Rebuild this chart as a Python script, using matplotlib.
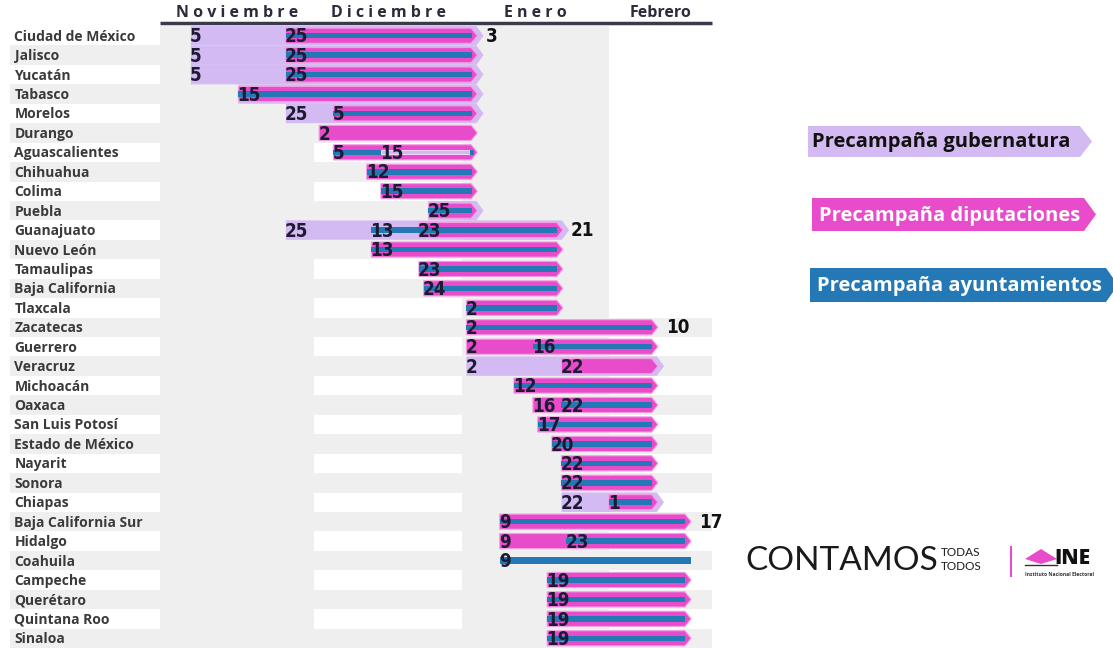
import numpy as np
import matplotlib
matplotlib.use("Agg")
import matplotlib.pyplot as plt
from matplotlib.patches import Polygon, Rectangle

# --- data -------------------------------------------------------------
states = ["Ciudad de México", "Jalisco", "Yucatán", "Tabasco", "Morelos", "Durango",
          "Aguascalientes", "Chihuahua", "Colima", "Puebla", "Guanajuato", "Nuevo León",
          "Tamaulipas", "Baja California", "Tlaxcala", "Zacatecas", "Guerrero", "Veracruz",
          "Michoacán", "Oaxaca", "San Luis Potosí", "Estado de México", "Nayarit", "Sonora",
          "Chiapas", "Baja California Sur", "Hidalgo", "Coahuila", "Campeche", "Querétaro",
          "Quintana Roo", "Sinaloa"]

# last day of the precampaigns in each state
row_end = (["2024-01-03"] * 10 + ["2024-01-21"] * 5 +
           ["2024-02-10"] * 10 + ["2024-02-17"] * 7)

# Precampaña gubernatura (start)
gub_start = ["2023-11-05", "2023-11-05", "2023-11-05", "2023-11-15", "2023-11-25",
             None, None, None, None, "2023-12-25",
             "2023-11-25", None, None, None, None,
             None, None, "2024-01-02", None, None,
             None, None, None, None, "2024-01-22",
             None, None, None, None, None, None, None]

# Precampaña diputaciones (start)
dip_start = ["2023-11-25", "2023-11-25", "2023-11-25", "2023-11-15", "2023-12-05",
             "2023-12-02", "2023-12-05", "2023-12-12", "2023-12-15", "2023-12-25",
             "2023-12-23", "2023-12-13", "2023-12-23", "2023-12-24", "2024-01-02",
             "2024-01-02", "2024-01-02", "2024-01-22", "2024-01-12", "2024-01-16",
             "2024-01-17", "2024-01-20", "2024-01-22", "2024-01-22", "2024-02-01",
             "2024-01-09", "2024-01-09", None, "2024-01-19", "2024-01-19",
             "2024-01-19", "2024-01-19"]

# Precampaña ayuntamientos (start, and end where it stops before the row end)
ayu_start = ["2023-11-25", "2023-11-25", "2023-11-25", "2023-11-15", "2023-12-05",
             None, "2023-12-05", "2023-12-12", "2023-12-15", "2023-12-25",
             "2023-12-13", "2023-12-13", "2023-12-23", "2023-12-24", "2024-01-02",
             "2024-01-02", "2024-01-16", None, "2024-01-12", "2024-01-22",
             "2024-01-17", "2024-01-20", "2024-01-22", "2024-01-22", "2024-02-01",
             "2024-01-09", "2024-01-23", "2024-01-09", "2024-01-19", "2024-01-19",
             "2024-01-19", "2024-01-19"]
ayu_end = [None] * 6 + ["2023-12-15"] + [None] * 25

months = ["N o v i e m b r e", "D i c i e m b r e", "E n e r o", "Febrero"]
month_starts = ["2023-11-01", "2023-12-01", "2024-01-01", "2024-02-01"]

legend_labels = ["Precampaña gubernatura", "Precampaña diputaciones",
                 "Precampaña ayuntamientos"]

# --- style ------------------------------------------------------------
LAV = "#d4baf3"
PINK = "#e94ccb"
BLUE = "#2378b5"
GRAY = "#efefef"
NUM = "#1d1b33"
NUMFONT = ["Liberation Sans Narrow", "DejaVu Sans"]
TXTFONT = ["Open Sans", "DejaVu Sans"]
LOGOFONT = ["Lato", "DejaVu Sans"]

ORIGIN = np.datetime64("2023-11-01")


def day(s):
    return (np.datetime64(s) - ORIGIN).astype(int)


def dom(s):
    return str(int(s[-2:]))


W, H = 1113, 648
fig = plt.figure(figsize=(W / 100, H / 100), dpi=100)


def px_axes(x0, y0, x1, y1):
    return fig.add_axes([x0 / W, 1 - y1 / H, (x1 - x0) / W, (y1 - y0) / H])


side = fig.add_axes([0, 0, 1, 1])
side.set_xlim(0, W)
side.set_ylim(H, 0)
side.axis("off")

ax_lab = px_axes(10, 26, 160, 648)
ax = px_axes(160, 26, 712, 648)
n = len(states)
x_lo, x_hi = -2.5, 113.7
for a in (ax_lab, ax):
    a.set_ylim(n - 0.5, -0.5)
    a.axis("off")
    a.patch.set_alpha(0)
ax_lab.set_xlim(0, 1)
ax.set_xlim(x_lo, x_hi)

edges = [x_lo] + [day(m) for m in month_starts[1:]] + [x_hi]
feb1 = day(month_starts[3])

# background: month columns and row stripes
ax.axvspan(edges[0], edges[1], color=GRAY, zorder=0, lw=0)
ax.axvspan(edges[2], edges[3], color=GRAY, zorder=0, lw=0)
for i in range(n):
    if i % 2 == 1:
        ax_lab.add_patch(Rectangle((0, i - 0.5), 1, 1, color=GRAY, lw=0, zorder=0))
        right = x_hi if day(row_end[i]) >= feb1 else feb1
        ax.add_patch(Rectangle((x_lo, i - 0.5), right - x_lo, 1, color=GRAY, lw=0, zorder=0))
    ax_lab.text(0.03, i + 0.05, states[i], va="center", ha="left", fontsize=10,
                family=TXTFONT, fontweight="bold", color="#3a3a3a")

# header
trans = ax.get_xaxis_transform()
ax.plot([x_lo, x_hi], [1.005, 1.005], transform=trans, color="#3a3a4a", lw=2.5,
        clip_on=False, solid_capstyle="butt")
for k, m in enumerate(months):
    mid = (edges[k] + edges[k + 1]) / 2
    ax.text(mid, 1.021, m, transform=trans, ha="center", va="center",
            fontsize=11.5, fontweight="bold", family=TXTFONT, color="#2b2b3b")


def arrow(a, x0, x1, y, h, tip, color, z, ec="none"):
    pts = [(x0, y - h / 2), (x1 - tip, y - h / 2), (x1, y),
           (x1 - tip, y + h / 2), (x0, y + h / 2)]
    a.add_patch(Polygon(pts, closed=True, facecolor=color, edgecolor=ec, lw=0.8, zorder=z))


prev_end = None
for i in range(n):
    e = day(row_end[i]) + 1
    starts = []
    if gub_start[i]:
        arrow(ax, day(gub_start[i]), e + 1.6, i, 1.0, 1.5, LAV, 1)
        starts.append(gub_start[i])
    if dip_start[i]:
        arrow(ax, day(dip_start[i]), e + 0.3, i, 0.78, 1.3, PINK, 2, ec="#f2a0e2")
        starts.append(dip_start[i])
    if ayu_start[i]:
        s = day(ayu_start[i])
        if dip_start[i] is None and gub_start[i] is None:
            ax.add_patch(Rectangle((s, i - 0.2), e + 0.3 - s, 0.4, color=BLUE, lw=0, zorder=3))
        elif ayu_end[i]:
            c = day(ayu_end[i])
            ax.add_patch(Rectangle((s, i - 0.14), c - s, 0.28, color=BLUE, lw=0, zorder=3))
            ax.add_patch(Rectangle((c, i - 0.11), e - 1.2 - c, 0.22, facecolor=LAV,
                                   edgecolor="#f5e6fb", lw=0.6, zorder=3))
            ax.add_patch(Rectangle((e - 1.2, i - 0.14), 0.9, 0.28, color=BLUE, lw=0, zorder=3))
            starts.append(ayu_end[i])
        else:
            ax.add_patch(Rectangle((s, i - 0.14), e - 0.9 - s, 0.28, color=BLUE, lw=0, zorder=3))
        starts.append(ayu_start[i])
    for s in sorted(set(starts)):
        ax.text(day(s) - 0.2, i + 0.06, dom(s), ha="left", va="center", fontsize=13.5,
                family=NUMFONT, fontstretch="condensed", fontweight="bold",
                color=NUM, zorder=5)
    if row_end[i] != prev_end:
        ax.text(e + 2.0, i + 0.02, dom(row_end[i]), ha="left", va="center", fontsize=13.5,
                family=NUMFONT, fontstretch="condensed", fontweight="bold",
                color="#111111", zorder=5, clip_on=False)
    prev_end = row_end[i]

# legend boxes
leg_boxes = [(808, 1080, 126, 157, LAV, "#111111", 812),
             (812, 1084, 198, 231, PINK, "white", 819),
             (810, 1106, 268, 302, BLUE, "white", 817)]
for (x0, x1, y0, y1, col, tc, tx), lab in zip(leg_boxes, legend_labels):
    ym = (y0 + y1) / 2
    side.add_patch(Polygon([(x0, y0), (x1, y0), (x1 + 12, ym), (x1, y1), (x0, y1)],
                           closed=True, color=col, lw=0))
    side.text(tx, ym + 1, lab, ha="left", va="center", fontsize=14.5, fontweight="bold",
              family=TXTFONT, color=tc)

# logo
side.text(745, 561, "CONTAMOS", ha="left", va="center", fontsize=24,
          family=LOGOFONT, fontweight="normal", color="#1a1a1a")
side.text(941, 553, "TODAS", ha="left", va="center", fontsize=8.5,
          family=LOGOFONT, fontweight="normal", color="#1a1a1a")
side.text(941, 567, "TODOS", ha="left", va="center", fontsize=8.5,
          family=LOGOFONT, fontweight="normal", color="#1a1a1a")
side.plot([1011, 1011], [547, 576], color=PINK, lw=1.5)
side.add_patch(Polygon([(1025, 559), (1041, 549), (1057, 559), (1041, 564)],
                       closed=True, color=PINK, lw=0))
side.plot([1025, 1057], [565, 565], color="#333333", lw=1)
side.text(1054, 559, "INE", ha="left", va="center", fontsize=15, fontweight="heavy",
          family=TXTFONT, color="#111111")
side.text(1025, 574, "Instituto Nacional Electoral", ha="left", va="center",
          fontsize=3.6, fontweight="bold", family=TXTFONT, color="#333333")

fig.savefig("out.png", dpi=100)
